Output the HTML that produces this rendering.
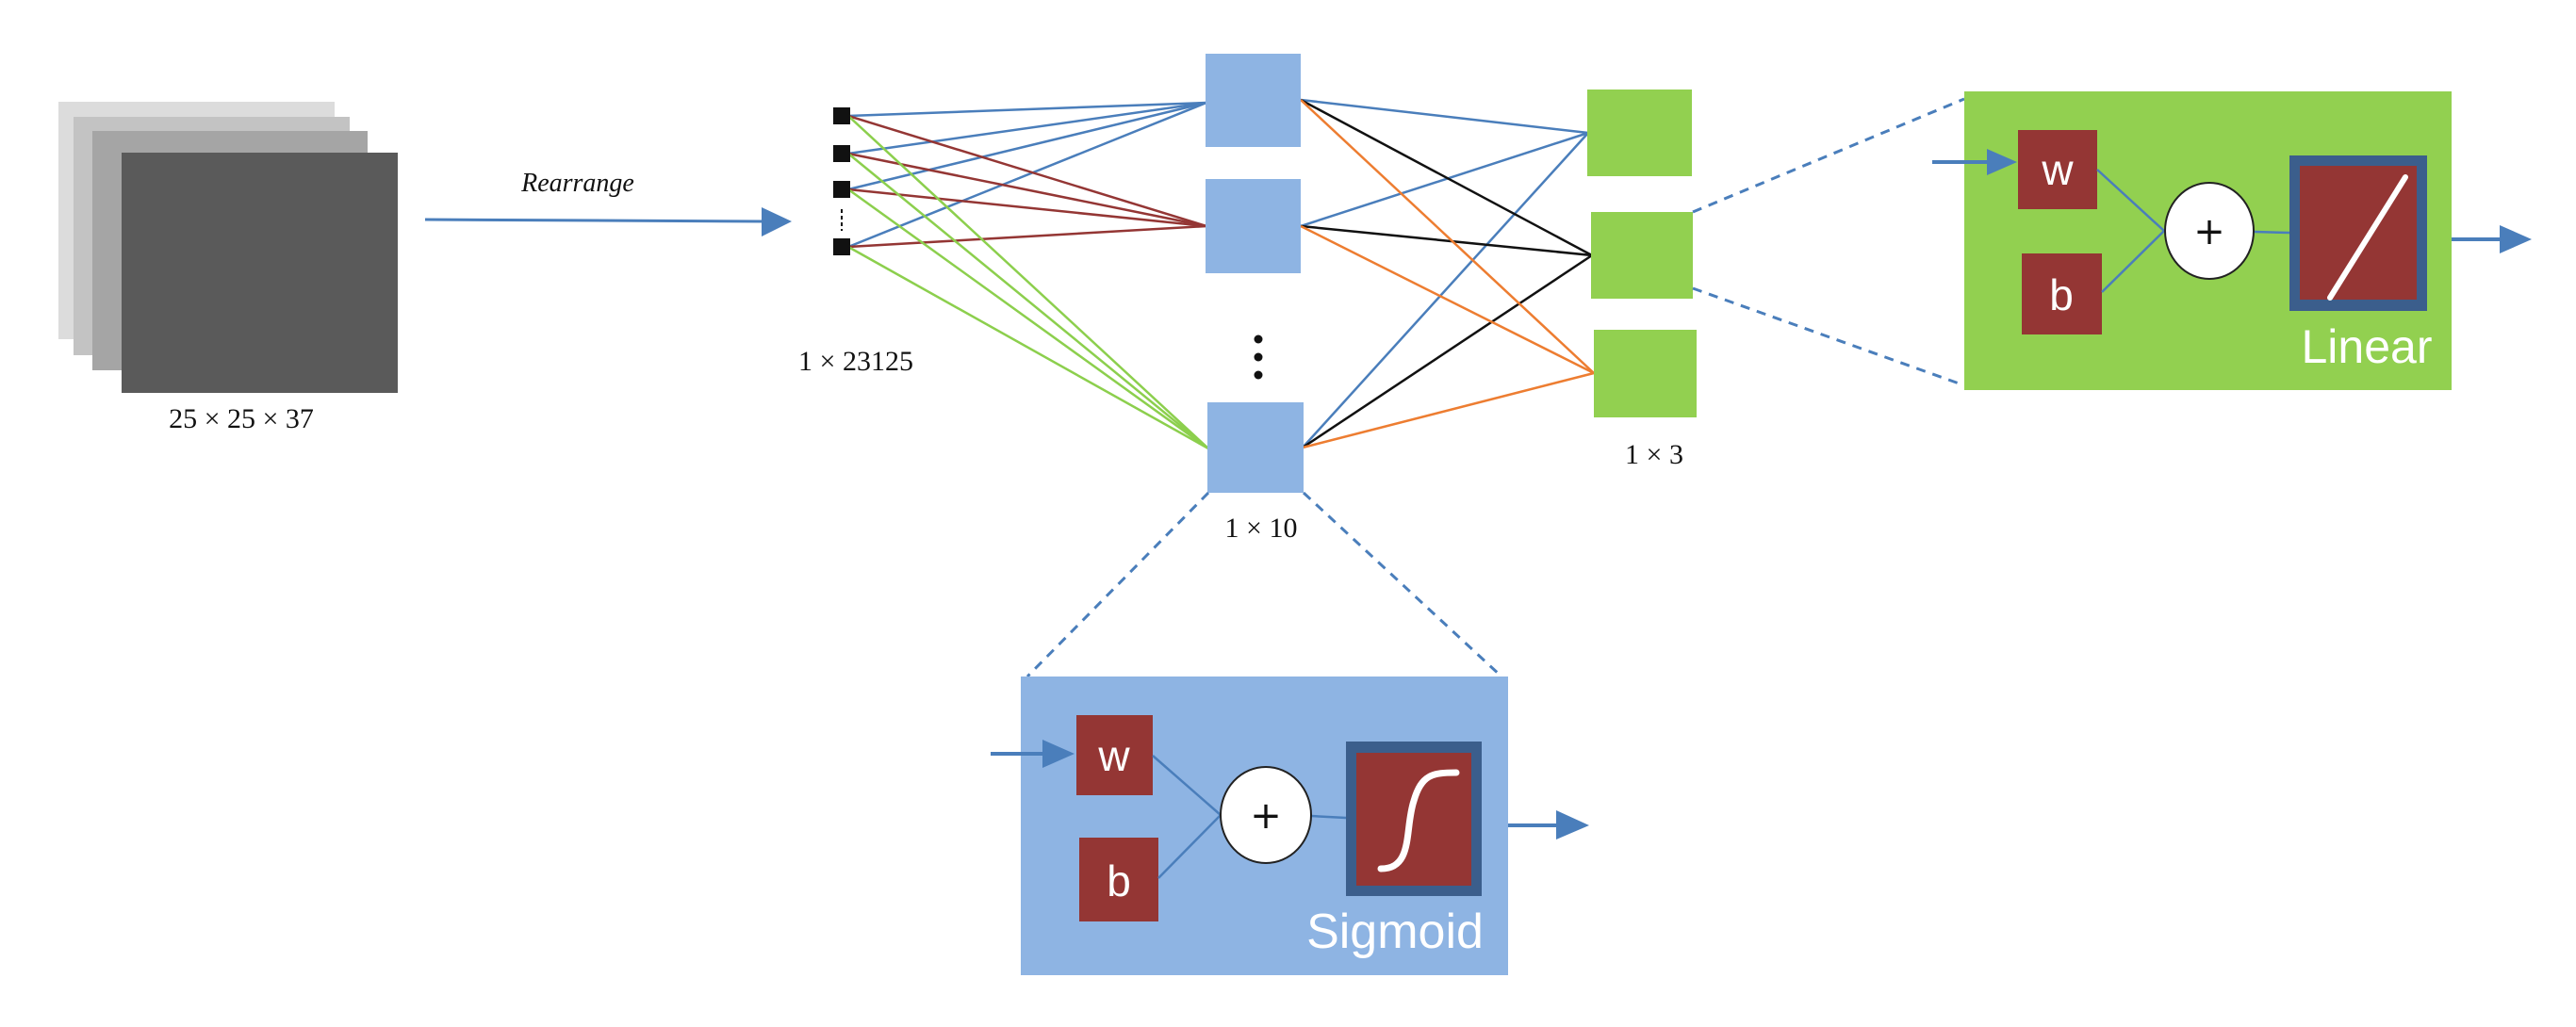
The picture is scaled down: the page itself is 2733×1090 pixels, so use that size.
<!DOCTYPE html>
<html><head><meta charset="utf-8"><style>
html,body{margin:0;padding:0;background:#fff;}
svg{display:block;}
.m{font-family:"Liberation Serif",serif;font-size:30px;fill:#111;}
.c{font-family:"Liberation Sans",sans-serif;fill:#fff;}
</style></head><body>
<svg width="2733" height="1090" viewBox="0 0 2733 1090" xmlns="http://www.w3.org/2000/svg">
<!-- image stack -->
<rect x="62" y="108" width="293" height="252" fill="#dcdcdc"/>
<rect x="78" y="124" width="293" height="253" fill="#c3c3c3"/>
<rect x="98" y="139" width="292" height="254" fill="#a5a5a5"/>
<rect x="129" y="162" width="293" height="255" fill="#5a5a5a"/>
<text class="m" x="256" y="454" text-anchor="middle">25 × 25 × 37</text>
<!-- rearrange arrow -->
<line x1="451" y1="233" x2="812" y2="235" stroke="#4a7ebb" stroke-width="3"/>
<polygon points="808,220 840,235 808,251" fill="#4a7ebb"/>
<text x="613" y="203" text-anchor="middle" font-family="Liberation Serif,serif" font-style="italic" font-size="28" fill="#111">Rearrange</text>
<!-- connections input -> hidden -->
<g stroke-width="2.5" fill="none">
<g stroke="#4a7ebb">
<line x1="900" y1="123" x2="1280" y2="109"/><line x1="900" y1="163" x2="1280" y2="109"/>
<line x1="900" y1="201" x2="1280" y2="109"/><line x1="900" y1="262" x2="1280" y2="109"/>
</g>
<g stroke="#943634">
<line x1="900" y1="123" x2="1280" y2="240"/><line x1="900" y1="163" x2="1280" y2="240"/>
<line x1="900" y1="201" x2="1280" y2="240"/><line x1="900" y1="262" x2="1280" y2="240"/>
</g>
<g stroke="#8ccf4d">
<line x1="900" y1="123" x2="1282" y2="476"/><line x1="900" y1="163" x2="1282" y2="476"/>
<line x1="900" y1="201" x2="1282" y2="476"/><line x1="900" y1="262" x2="1282" y2="476"/>
</g>
</g>
<!-- input squares -->
<rect x="884" y="114" width="18" height="18" fill="#111"/>
<rect x="884" y="154" width="18" height="18" fill="#111"/>
<rect x="884" y="192" width="18" height="18" fill="#111"/>
<rect x="884" y="253" width="18" height="18" fill="#111"/>
<line x1="893" y1="222" x2="893" y2="245" stroke="#111" stroke-width="2" stroke-dasharray="4,3"/>
<text class="m" x="908" y="393" text-anchor="middle">1 × 23125</text>
<!-- hidden -> output -->
<g stroke-width="2.5" fill="none">
<g stroke="#4a7ebb"><line x1="1380" y1="106" x2="1685" y2="141"/><line x1="1380" y1="240" x2="1685" y2="141"/><line x1="1382" y1="475" x2="1685" y2="141"/></g>
<g stroke="#111"><line x1="1380" y1="106" x2="1689" y2="271"/><line x1="1380" y1="240" x2="1689" y2="271"/><line x1="1382" y1="475" x2="1689" y2="271"/></g>
<g stroke="#ed7d31"><line x1="1380" y1="106" x2="1691" y2="396"/><line x1="1380" y1="240" x2="1691" y2="396"/><line x1="1382" y1="475" x2="1691" y2="396"/></g>
</g>
<!-- hidden boxes -->
<rect x="1279" y="57" width="101" height="99" fill="#8eb4e3"/>
<rect x="1279" y="190" width="101" height="100" fill="#8eb4e3"/>
<rect x="1281" y="427" width="102" height="96" fill="#8eb4e3"/>
<circle cx="1335" cy="360" r="4.5" fill="#111"/><circle cx="1335" cy="379" r="4.5" fill="#111"/><circle cx="1335" cy="398" r="4.5" fill="#111"/>
<text class="m" x="1338" y="570" text-anchor="middle">1 × 10</text>
<!-- output boxes -->
<rect x="1684" y="95" width="111" height="92" fill="#92d050"/>
<rect x="1688" y="225" width="108" height="92" fill="#92d050"/>
<rect x="1691" y="350" width="109" height="93" fill="#92d050"/>
<text class="m" x="1755" y="492" text-anchor="middle">1 × 3</text>
<!-- dashed zoom lines -->
<g stroke="#4a7ebb" stroke-width="3" stroke-dasharray="10,8" fill="none">
<line x1="1796" y1="225" x2="2084" y2="105"/>
<line x1="1796" y1="306" x2="2084" y2="409"/>
<line x1="1282" y1="523" x2="1090" y2="718"/>
<line x1="1383" y1="523" x2="1593" y2="718"/>
</g>
<!-- Linear box -->
<rect x="2084" y="97" width="517" height="317" fill="#92d050"/>
<line x1="2050" y1="172" x2="2112" y2="172" stroke="#4a7ebb" stroke-width="4"/>
<polygon points="2108,158 2140,172 2108,186" fill="#4a7ebb"/>
<rect x="2141" y="138" width="84" height="84" fill="#943634"/>
<rect x="2145" y="269" width="85" height="86" fill="#943634"/>
<text class="c" x="2183" y="196" text-anchor="middle" font-size="46">w</text>
<text class="c" x="2187" y="329" text-anchor="middle" font-size="46">b</text>
<g stroke="#4a7ebb" stroke-width="2.5"><line x1="2225" y1="180" x2="2296" y2="245"/><line x1="2230" y1="310" x2="2296" y2="245"/><line x1="2392" y1="246" x2="2429" y2="247"/></g>
<ellipse cx="2344" cy="245" rx="47" ry="51" fill="#fff" stroke="#222" stroke-width="2"/>
<text x="2344" y="259" text-anchor="middle" font-family="DejaVu Sans,sans-serif" font-size="40" fill="#111">+</text>
<rect x="2429" y="165" width="146" height="165" fill="#3b5e8c"/>
<rect x="2440" y="176" width="124" height="142" fill="#943634"/>
<line x1="2552" y1="188" x2="2472" y2="316" stroke="#fff" stroke-width="6" stroke-linecap="round"/>
<text class="c" x="2511" y="385" text-anchor="middle" font-size="50">Linear</text>
<line x1="2601" y1="254" x2="2655" y2="254" stroke="#4a7ebb" stroke-width="4"/>
<polygon points="2652,239 2686,254 2652,269" fill="#4a7ebb"/>
<!-- Sigmoid box -->
<rect x="1083" y="718" width="517" height="317" fill="#8eb4e3"/>
<line x1="1051" y1="800" x2="1110" y2="800" stroke="#4a7ebb" stroke-width="4"/>
<polygon points="1106,785 1140,800 1106,815" fill="#4a7ebb"/>
<rect x="1142" y="759" width="81" height="85" fill="#943634"/>
<rect x="1145" y="889" width="84" height="89" fill="#943634"/>
<text class="c" x="1182" y="818" text-anchor="middle" font-size="46">w</text>
<text class="c" x="1187" y="951" text-anchor="middle" font-size="46">b</text>
<g stroke="#4a7ebb" stroke-width="2.5"><line x1="1223" y1="802" x2="1295" y2="865"/><line x1="1229" y1="932" x2="1295" y2="865"/><line x1="1391" y1="866" x2="1428" y2="868"/></g>
<ellipse cx="1343" cy="865" rx="48" ry="51" fill="#fff" stroke="#222" stroke-width="2"/>
<text x="1343" y="879" text-anchor="middle" font-family="DejaVu Sans,sans-serif" font-size="40" fill="#111">+</text>
<rect x="1428" y="787" width="144" height="164" fill="#3b5e8c"/>
<rect x="1439" y="799" width="122" height="141" fill="#943634"/>
<path d="M1465,922 C1500,922 1490,880 1500,850 C1508,822 1520,820 1545,820" stroke="#fff" stroke-width="7" fill="none" stroke-linecap="round"/>
<text class="c" x="1480" y="1006" text-anchor="middle" font-size="52">Sigmoid</text>
<line x1="1600" y1="876" x2="1655" y2="876" stroke="#4a7ebb" stroke-width="4"/>
<polygon points="1651,860 1686,876 1651,891" fill="#4a7ebb"/>
</svg>
</body></html>
